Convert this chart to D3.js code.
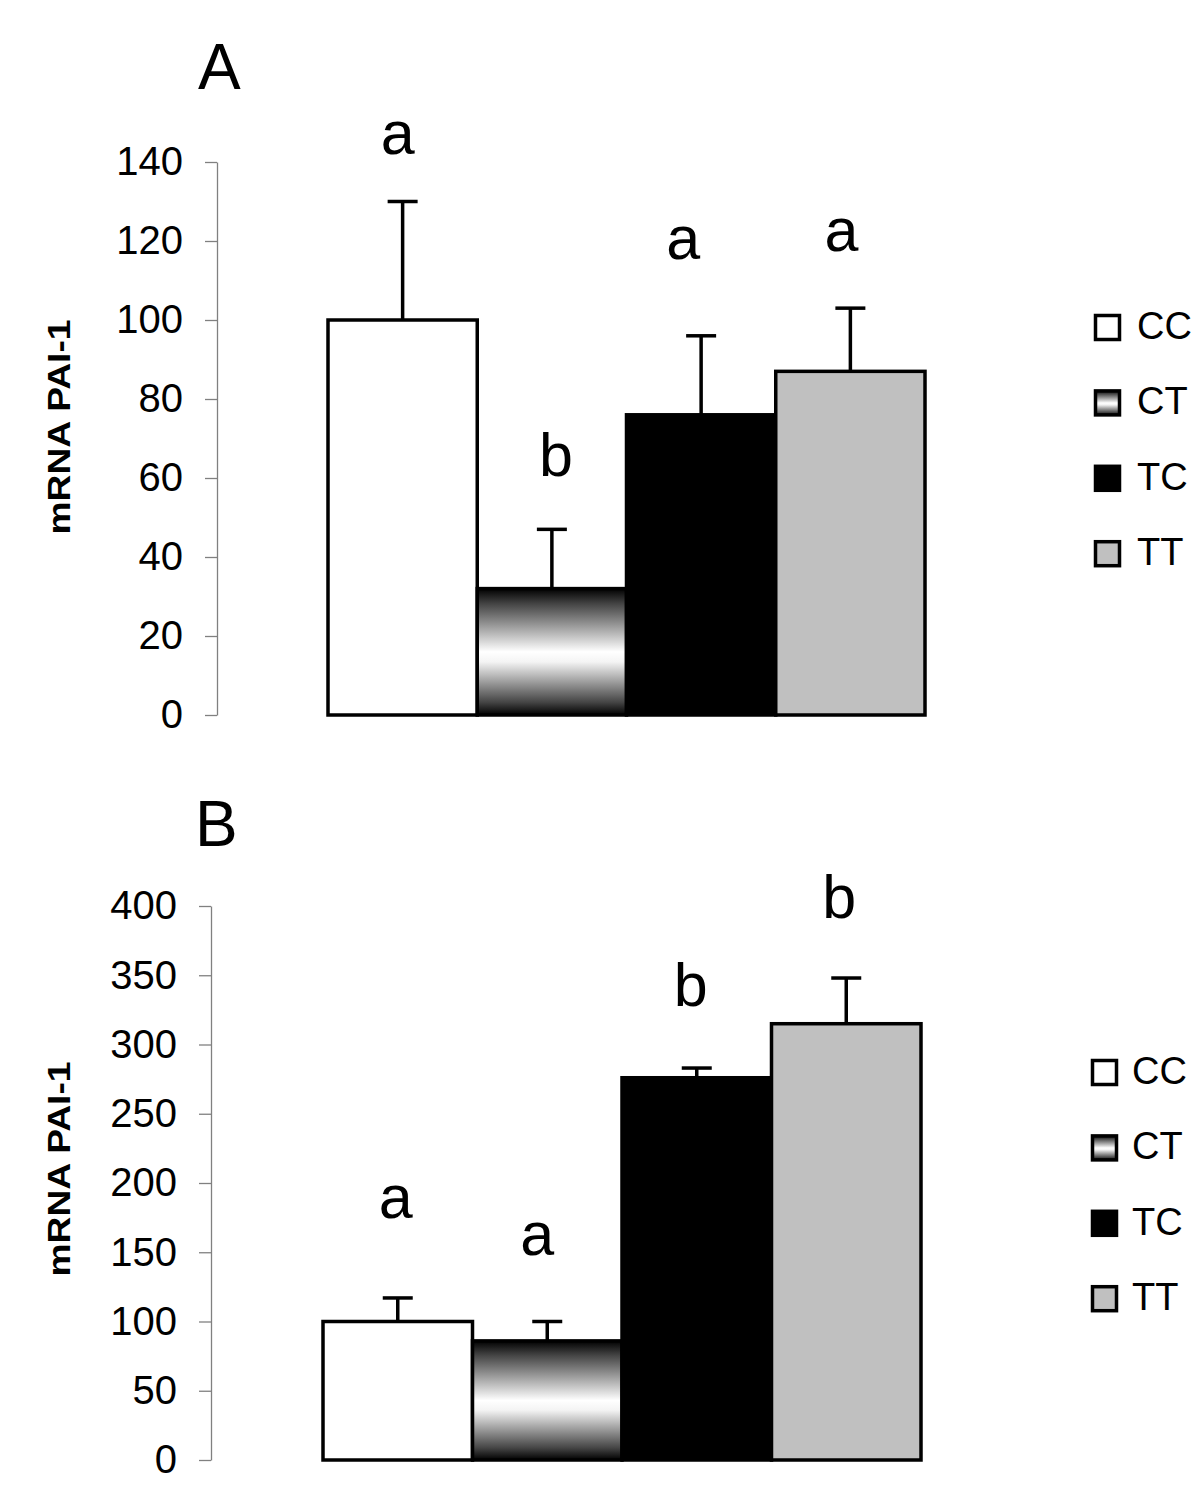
<!DOCTYPE html>
<html><head><meta charset="utf-8">
<script src="https://cdn.jsdelivr.net/npm/d3@7"></script>
<style>body{margin:0;background:#fff}svg{display:block}</style>
</head><body>
<svg id="chart" width="1200" height="1501"></svg>
<script>
// ---------- data ----------
const genotypes = ["CC", "CT", "TC", "TT"];

const valuesA   = [100, 32, 76, 87];
const errTopA   = [130, 47, 96, 103];
const lettersA  = ["a", "b", "a", "a"];
const letterAtA = [142, 60.5, 115.5, 117.5];
const ticksA    = [0, 20, 40, 60, 80, 100, 120, 140];

const valuesB   = [100, 86, 276, 315];
const errTopB   = [117, 100, 283, 348];
const lettersB  = ["a", "a", "b", "b"];
const letterAtB = [175, 148, 328, 391];
const ticksB    = [0, 50, 100, 150, 200, 250, 300, 350, 400];

const panelLabels = ["A", "B"];
const yTitle = "mRNA PAI-1";

// ---------- styling / layout ----------
const fills = {CC: "#ffffff", CT: "url(#ctGrad)", TC: "#000000", TT: "#c0c0c0"};
const FONT = "'Liberation Sans', Arial, Helvetica, sans-serif";

const layout = [
  {values: valuesA, errs: errTopA, letters: lettersA, letterAt: letterAtA, ticks: ticksA,
   yRange: [715, 162], axisX: 217, xRange: [328, 925], title: [198, 89],
   yTitleY: 427, legX: 1094, legTop: 314, legTextX: 1137, nudge: [-5, 4, -18, -9]},
  {values: valuesB, errs: errTopB, letters: lettersB, letterAt: letterAtB, ticks: ticksB,
   yRange: [1460, 906], axisX: 211, xRange: [323, 921], title: [195, 846],
   yTitleY: 1169, legX: 1091, legTop: 1059, legTextX: 1132, nudge: [-2, -10, -6, -7]}
];

const svg = d3.select("#chart");
svg.append("rect").attr("width", 1200).attr("height", 1501).attr("fill", "#fff");

const defs = svg.append("defs");
const grad = defs.append("linearGradient").attr("id", "ctGrad")
  .attr("x1", 0).attr("y1", 0).attr("x2", 0).attr("y2", 1);
[[0, "#000"], [0.12, "#444"], [0.5, "#fff"], [0.58, "#f4f4f4"], [0.9, "#444"], [1, "#000"]]
  .forEach(([o, c]) => grad.append("stop").attr("offset", o).attr("stop-color", c));

layout.forEach((p, pi) => {
  const g = svg.append("g");
  const y = d3.scaleLinear().domain([0, d3.max(p.ticks)]).range(p.yRange);
  const x = d3.scaleBand().domain(genotypes).range(p.xRange).paddingInner(0).paddingOuter(0);

  // panel label
  g.append("text").attr("x", p.title[0]).attr("y", p.title[1])
    .attr("font-family", FONT).attr("font-size", 64).attr("fill", "#000")
    .text(panelLabels[pi]);

  // y axis
  const ax = g.append("g").attr("transform", `translate(${p.axisX},0)`)
    .call(d3.axisLeft(y).tickValues(p.ticks).tickSize(12).tickSizeOuter(0).tickPadding(22));
  ax.select(".domain").attr("stroke", "#808080").attr("stroke-width", 1.3);
  ax.selectAll(".tick line").attr("stroke", "#808080").attr("stroke-width", 1.3);
  ax.selectAll(".tick text").attr("font-family", FONT).attr("font-size", 40).attr("fill", "#000");

  // y title
  g.append("text")
    .attr("transform", `translate(70,${p.yTitleY}) rotate(-90)`)
    .attr("text-anchor", "middle")
    .attr("font-family", FONT).attr("font-weight", "bold").attr("font-size", 31)
    .attr("textLength", 215).attr("lengthAdjust", "spacingAndGlyphs")
    .text(yTitle);

  // bars
  g.selectAll("rect.bar").data(genotypes).join("rect").attr("class", "bar")
    .attr("x", d => x(d)).attr("width", x.bandwidth())
    .attr("y", (d, i) => y(p.values[i]))
    .attr("height", (d, i) => y(0) - y(p.values[i]))
    .attr("fill", d => fills[d]).attr("stroke", "#000").attr("stroke-width", 3.5);

  // error bars
  const eb = g.selectAll("g.err").data(genotypes).join("g").attr("class", "err");
  eb.append("line")
    .attr("x1", d => x(d) + x.bandwidth() / 2).attr("x2", d => x(d) + x.bandwidth() / 2)
    .attr("y1", (d, i) => y(p.values[i])).attr("y2", (d, i) => y(p.errs[i]))
    .attr("stroke", "#000").attr("stroke-width", 3.5);
  eb.append("line")
    .attr("x1", d => x(d) + x.bandwidth() / 2 - 15).attr("x2", d => x(d) + x.bandwidth() / 2 + 15)
    .attr("y1", (d, i) => y(p.errs[i])).attr("y2", (d, i) => y(p.errs[i]))
    .attr("stroke", "#000").attr("stroke-width", 3.5);

  // significance letters
  g.selectAll("text.sig").data(genotypes).join("text").attr("class", "sig")
    .attr("x", (d, i) => x(d) + x.bandwidth() / 2 + p.nudge[i])
    .attr("y", (d, i) => y(p.letterAt[i]))
    .attr("text-anchor", "middle")
    .attr("font-family", FONT).attr("font-size", 61).attr("fill", "#000")
    .text((d, i) => p.letters[i]);

  // legend
  const ly = d3.scalePoint().domain(genotypes).range([p.legTop, p.legTop + 3 * 75.4]);
  const lg = g.selectAll("g.leg").data(genotypes).join("g").attr("class", "leg");
  lg.append("rect")
    .attr("x", p.legX + 1.5).attr("y", d => ly(d) + 1.5)
    .attr("width", 24).attr("height", 24)
    .attr("fill", d => fills[d]).attr("stroke", "#000").attr("stroke-width", 3.5);
  lg.append("text")
    .attr("x", p.legTextX).attr("y", d => ly(d) + 25)
    .attr("font-family", FONT).attr("font-size", 38).attr("fill", "#000")
    .text(d => d);
});
</script>
</body></html>
